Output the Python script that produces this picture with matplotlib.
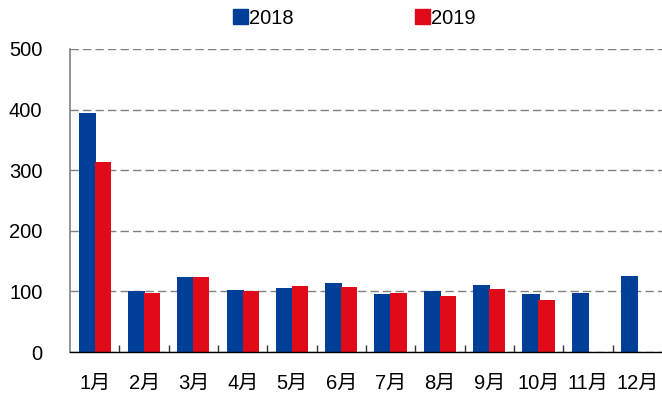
import numpy as np
import matplotlib
matplotlib.use("Agg")
import matplotlib.pyplot as plt
from matplotlib.patches import Patch

plt.rcParams['font.family'] = ['Liberation Sans', 'Noto Sans CJK SC', 'DejaVu Sans']

months = ['1月', '2月', '3月', '4月', '5月', '6月', '7月', '8月', '9月', '10月', '11月', '12月']
v2018 = [394, 101, 124, 103, 106, 114, 96, 100, 111, 95, 97, 125]
v2019 = [313, 97, 123, 101, 109, 108, 98, 92, 104, 85, np.nan, np.nan]

blue = '#003f98'
red = '#e10a19'

fig = plt.figure(figsize=(6.62, 4.0), dpi=100)
ax = fig.add_axes([0.106, 0.12, 0.894, 0.7575])

x = np.arange(len(months))
ax.bar(x - 0.155, v2018, width=0.35, color=blue, zorder=3)
ax.bar(x + 0.16, v2019, width=0.33, color=red, zorder=4)

ax.set_xlim(-0.5, 11.5)
ax.set_ylim(0, 500)
ax.set_yticks(range(0, 501, 100))
ax.yaxis.grid(True, linestyle=(0, (6, 3)), color='#808080', linewidth=1.0, zorder=0)
ax.set_xticks(x)
ax.set_xticklabels(months)
ax.set_xticks(np.arange(0.5, 11.5, 1), minor=True)
ax.tick_params(axis='x', which='major', length=0, pad=16, labelsize=14.5)
ax.tick_params(axis='x', which='minor', direction='in', length=5, width=1, color='#333333')
ax.tick_params(axis='y', length=0, pad=20, labelsize=14.5)

for s in ['top', 'right']:
    ax.spines[s].set_visible(False)
ax.spines['left'].set_color('#808080')
ax.spines['left'].set_linewidth(1.2)
ax.spines['bottom'].set_color('black')
ax.spines['bottom'].set_linewidth(1.0)
ax.spines['bottom'].set_zorder(5)

handles = [Patch(color=blue, label='2018'), Patch(color=red, label='2019')]
fig.legend(handles=handles, loc='center', bbox_to_anchor=(0.535, 0.955), ncol=2,
           frameon=False, fontsize=14.5, handlelength=0.75, handleheight=0.75,
           handletextpad=0.05, columnspacing=6.0)

fig.savefig('out.png', dpi=100)
